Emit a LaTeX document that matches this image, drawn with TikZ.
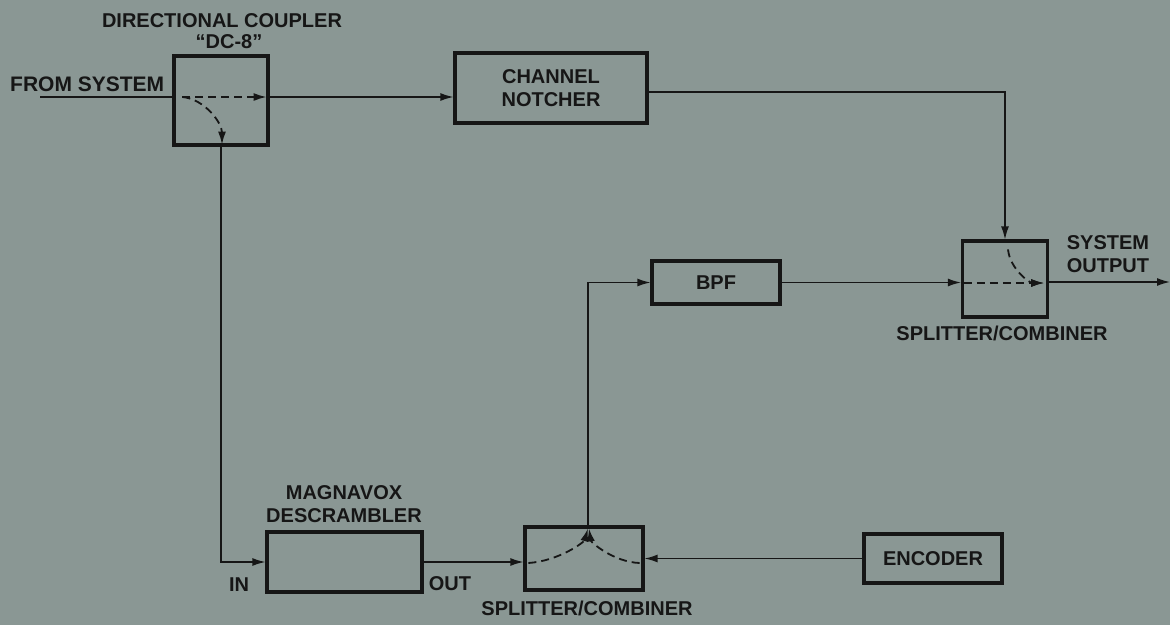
\documentclass[tikz,border=0pt]{standalone}
\usepackage{fontspec}
\setmainfont{Liberation Sans}
\usetikzlibrary{arrows.meta,calc}
\definecolor{bg}{RGB}{138,151,148}
\definecolor{ink}{RGB}{22,22,22}
\begin{document}
\begin{tikzpicture}[x=1pt,y=-1pt,
  box/.style={draw=ink,line width=3.2pt,fill=bg,inner sep=0pt,align=center},
  lbl/.style={inner sep=0pt,align=center,text=ink,font=\bfseries\fontsize{20}{22.5}\selectfont},
  conn/.style={draw=ink,line width=1.4pt},
  tip/.style={-{Latex[length=13pt,width=8pt]}},
  dsh/.style={draw=ink,line width=1.8pt,dash pattern=on 8pt off 5pt}
]
\fill[bg] (0,0) rectangle (1170,625);
\useasboundingbox (0,0) rectangle (1170,625);

% boxes
\node[box,minimum width=94pt,minimum height=89pt] (dc) at (221,100.5) {};
\node[box,minimum width=192pt,minimum height=70pt,lbl] (notch) at (551,88) {CHANNEL\\NOTCHER};
\node[box,minimum width=85pt,minimum height=76pt] (scr) at (1005,279) {};
\node[box,minimum width=128pt,minimum height=43pt,lbl] (bpf) at (716,282.5) {BPF};
\node[box,minimum width=118pt,minimum height=63pt] (bsc) at (584,558.5) {};
\node[box,minimum width=155pt,minimum height=60pt] (desc) at (344.5,562) {};
\node[box,minimum width=138pt,minimum height=49pt,lbl] (enc) at (933,558.5) {ENCODER};

% labels
\node[lbl] (ldc) at (222,21) {DIRECTIONAL COUPLER};
\node[lbl] (ldc8) at (229,42) {``DC-8''};
\node[lbl,anchor=west,font=\bfseries\fontsize{21}{23}\selectfont] (lfs) at (10,84) {FROM SYSTEM};
\node[lbl] (lso) at (1108,254) {SYSTEM\\OUTPUT};
\node[lbl] (lscr) at (1002,333) {SPLITTER/COMBINER};
\node[lbl] (lmd) at (344,504) {MAGNAVOX\\DESCRAMBLER};
\node[lbl] (lbsc) at (587,608) {SPLITTER/COMBINER};
\node[lbl] (lin) at (239,585) {IN};
\node[lbl] (lout) at (450,584) {OUT};

% coordinates
\coordinate (fs) at (40,97);
\coordinate (out) at (1170,282);

% connectors
\draw[conn] (fs) -- (fs -| dc.west);
\draw[conn,tip] (fs -| dc.east) -- (fs -| notch.west);
\draw[conn,tip] ($(notch.east)+(0,4)$) -| (scr.north);
\draw[conn,tip] (bpf.east) -- (bpf.east -| scr.west);
\draw[conn,tip] ($(scr.east)+(0,3)$) -- (out);
\draw[conn,tip] (dc.south) |- (desc.west);
\draw[conn,tip] (desc.east) -- (desc.east -| bsc.west);
\draw[conn,tip] (enc.west) -- (enc.west -| bsc.east);
\draw[conn,tip] ($(bsc.north)+(4,0)$) |- (bpf.west);

% inner dashed paths
\draw[dsh,tip] ($(fs -| dc.west)+(10,0)$) -- ($(fs -| dc.east)+(-3,0)$);
\draw[dsh,tip] ($(fs -| dc.west)+(10,0)$) .. controls +(22,2) and +(0,-22) .. ($(dc.south)+(1,-2)$);
\draw[dsh,tip] ($(scr.west)+(3,4)$) -- ($(scr.east)+(-5,4)$);
\draw[dsh,tip] ($(scr.north)+(3,10)$) .. controls +(2,20) and +(-14,0) .. ($(scr.east)+(-5,4)$);
\draw[dsh,tip] ($(bsc.west)+(5,4.5)$) .. controls +(30,-2) and +(-4,14) .. ($(bsc.north)+(4,3)$);
\draw[dsh,tip] ($(bsc.east)+(-5,4.5)$) .. controls +(-26,-1) and +(2,14) .. ($(bsc.north)+(5,3)$);
\end{tikzpicture}
\end{document}
